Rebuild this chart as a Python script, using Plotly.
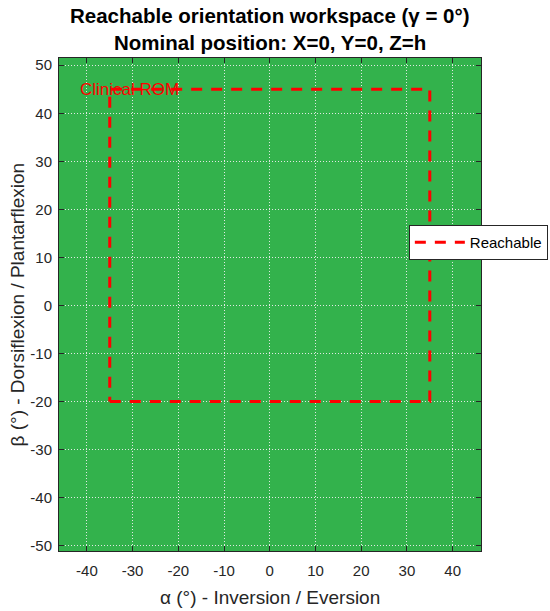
import plotly.graph_objects as go

# reachable region (orientation workspace), degrees
reach_alpha = [-50, 50]
reach_beta = [-55, 55]

# clinical range of motion box
rom_alpha = [-35, 35, 35, -35, -35]
rom_beta = [-20, -20, 45, 45, -20]

label_pos = [-42, 45]
x_ticks = [-40, -30, -20, -10, 0, 10, 20, 30, 40]
y_ticks = [-50, -40, -30, -20, -10, 0, 10, 20, 30, 40, 50]

green = 'rgb(51, 178, 76)'
red = 'rgb(255, 0, 0)'
font = 'Liberation Sans, Arial, sans-serif'
dark = '#262626'

fig = go.Figure()

# green reachable patch drawn under the grid
fig.add_shape(type='rect', xref='x', yref='y',
              x0=reach_alpha[0], x1=reach_alpha[1],
              y0=reach_beta[0], y1=reach_beta[1],
              fillcolor=green, line_width=0, layer='below')

fig.add_trace(go.Scatter(
    x=rom_alpha, y=rom_beta, mode='lines',
    line=dict(color=red, width=3, dash='11px,9px'),
    name='Reachable', showlegend=True,
))

fig.add_annotation(x=label_pos[0], y=label_pos[1], text='Clinical ROM',
                   showarrow=False, xanchor='left', yanchor='middle',
                   font=dict(family=font, size=17, color=red))

# title lines
fig.add_annotation(xref='paper', yref='paper', x=0.5, y=1, yshift=43,
                   text='<b>Reachable orientation workspace (γ = 0°)</b>',
                   showarrow=False, yanchor='middle',
                   font=dict(family=font, size=20.5, color='black'))
fig.add_annotation(xref='paper', yref='paper', x=0.5, y=1, yshift=16,
                   text='<b>Nominal position: X=0, Y=0, Z=h</b>',
                   showarrow=False, yanchor='middle',
                   font=dict(family=font, size=20.5, color='black'))

# axis titles
fig.add_annotation(xref='paper', yref='paper', x=0.5, y=0, yshift=-46,
                   text='α (°) - Inversion / Eversion', showarrow=False,
                   yanchor='middle', font=dict(family=font, size=19, color=dark))
fig.add_annotation(xref='paper', yref='paper', x=0, xshift=-42, y=0.5,
                   text='β (°) - Dorsiflexion / Plantarflexion', showarrow=False,
                   textangle=-90, xanchor='center',
                   font=dict(family=font, size=19, color=dark))

axis_common = dict(
    showgrid=True, gridcolor='rgba(235,235,235,0.95)', griddash='1px,2px', gridwidth=1,
    zeroline=False, showline=True, linecolor=dark, linewidth=1, mirror='ticks',
    ticks='inside', ticklen=5, tickcolor=dark, automargin=False,
    tickfont=dict(family=font, size=15, color=dark),
)

fig.update_layout(
    width=550, height=611,
    margin=dict(l=59, r=69, t=58, b=60, autoexpand=False),
    paper_bgcolor='white', plot_bgcolor='white',
    xaxis=dict(range=[-46.1, 46.2], tickvals=x_ticks,
               ticktext=[str(v) for v in x_ticks],
               ticklabelstandoff=6, **axis_common),
    yaxis=dict(range=[-51.1, 51.5], tickvals=y_ticks,
               ticktext=[str(v) for v in y_ticks],
               ticklabelstandoff=3, **axis_common),
    legend=dict(x=0.829, y=0.626, xanchor='left', yanchor='middle',
                bgcolor='white', bordercolor=dark, borderwidth=1,
                font=dict(family=font, size=15, color='black'),
                itemwidth=50, tracegroupgap=0),
)

fig.write_html('out.html', config={'displayModeBar': False},
               post_script="document.body.style.margin='0px';")
